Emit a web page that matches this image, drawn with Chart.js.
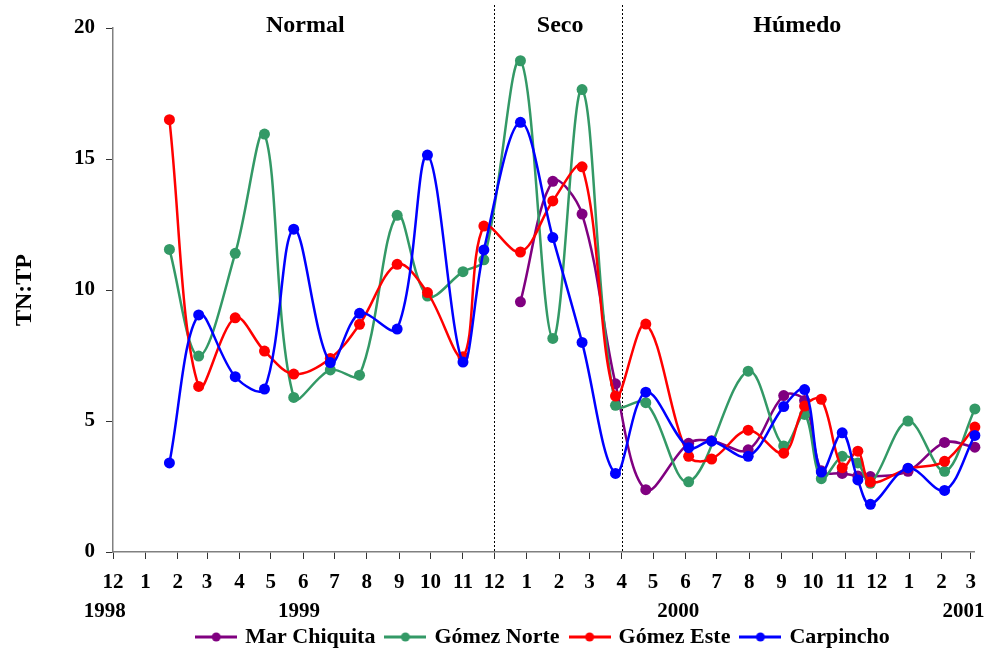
<!DOCTYPE html>
<html>
<head>
<meta charset="utf-8">
<script src="https://cdn.jsdelivr.net/npm/chart.js@4"></script>
<style>
  html, body { margin: 0; padding: 0; background: #fff; }
  #wrap { width: 987px; height: 650px; }
</style>
</head>
<body>
<div id="wrap"><canvas id="chart" width="987" height="650"></canvas></div>
<script>
// sampling dates shared by all sites
const sampleDates = [
  '1999-01-24', '1999-02-21', '1999-03-28', '1999-04-25', '1999-05-23', '1999-06-27',
  '1999-07-25', '1999-08-30', '1999-09-28', '1999-11-01', '1999-11-21', '1999-12-26',
  '2000-01-26', '2000-02-23', '2000-03-26', '2000-04-24', '2000-06-04', '2000-06-26',
  '2000-07-31', '2000-09-03', '2000-09-23', '2000-10-09', '2000-10-29', '2000-11-13',
  '2000-11-25', '2000-12-31', '2001-02-04', '2001-03-05'
];

// TN:TP per site (null = no sample)
const marChiquita = [null, null, null, null, null, null, null, null, null, null, null, 9.55,
  14.15, 12.9, 6.42, 2.38, 4.15, 4.25, 3.9, 5.97, 5.78, 3.1, 3.0, 2.9, 2.88, 3.08, 4.18, 4.0];
const gomezNorte = [11.55, 7.48, 11.4, 15.95, 5.9, 6.95, 6.75, 12.85, 9.77, 10.7, 11.15, 18.75,
  8.15, 17.65, 5.6, 5.7, 2.68, null, 6.9, 4.05, 5.25, 2.8, 3.65, 3.4, 2.62, 5.0, 3.08, 5.46];
const gomezEste = [16.5, 6.32, 8.94, 7.67, 6.79, 7.39, 8.69, 10.98, 9.9, 7.45, 12.44, 11.45,
  13.4, 14.7, 5.95, 8.7, 3.65, 3.55, 4.65, 3.77, 5.57, 5.83, 3.22, 3.85, 2.67, 3.18, 3.46, 4.77];
const carpincho = [3.4, 9.05, 6.69, 6.22, 12.32, 7.23, 9.11, 8.51, 15.15, 7.25, 11.53, 16.4,
  12.0, 8.0, 3.0, 6.1, 3.98, 4.23, 3.65, 5.55, 6.2, 3.05, 4.55, 2.75, 1.82, 3.2, 2.35, 4.45];

const seriesNames = ['Mar Chiquita', 'Gómez Norte', 'Gómez Este', 'Carpincho'];
const seriesValues = [marChiquita, gomezNorte, gomezEste, carpincho];
const seriesColors = ['#800080', '#339966', '#ff0000', '#0000ff'];
const drawOrder = [4, 3, 2, 1]; // Carpincho on top

// x axis: a tick at the start of each month
const monthTicks = [
  '1998-12-01', '1999-01-01', '1999-02-01', '1999-03-01', '1999-04-01', '1999-05-01', '1999-06-01',
  '1999-07-01', '1999-08-01', '1999-09-01', '1999-10-01', '1999-11-01', '1999-12-01', '2000-01-01',
  '2000-02-01', '2000-03-01', '2000-04-01', '2000-05-01', '2000-06-01', '2000-07-01', '2000-08-01',
  '2000-09-01', '2000-10-01', '2000-11-01', '2000-12-01', '2001-01-01', '2001-02-01', '2001-03-01'
];
const monthLabels = ['12', '1', '2', '3', '4', '5', '6', '7', '8', '9', '10', '11', '12', '1',
  '2', '3', '4', '5', '6', '7', '8', '9', '10', '11', '12', '1', '2', '3'];
const yearLabels = ['1998', '1999', '2000', '2001'];
const yearLabelDates = ['1998-11-23', '1999-05-28', '2000-05-25', '2001-02-22'];

// hydrological periods
const periodNames = ['Normal', 'Seco', 'Húmedo'];
const periodLabelDates = ['1999-06-03', '2000-02-02', '2000-09-16'];
const periodBreaks = ['1999-12-01', '2000-04-01'];

const ORIGIN = Date.parse(monthTicks[0]);
const toDay = s => (Date.parse(s) - ORIGIN) / 86400000;
const FONT = "'Liberation Serif', 'Times New Roman', serif";

function legendIcon(color) {
    const c = document.createElement('canvas');
    c.width = 42;
    c.height = 12;
    const g = c.getContext('2d');
    g.strokeStyle = color;
    g.lineWidth = 3;
    g.beginPath();
    g.moveTo(0, 6);
    g.lineTo(42, 6);
    g.stroke();
    g.fillStyle = color;
    g.beginPath();
    g.arc(21, 6, 4.5, 0, Math.PI * 2);
    g.fill();
    return c;
}

// dotted period separators, period names and year labels
const periodPlugin = {
    id: 'periods',
    beforeDatasetsDraw(chart) {
        const {ctx, chartArea, scales: {x}} = chart;
        ctx.save();
        ctx.setLineDash([2, 2]);
        ctx.strokeStyle = '#000';
        ctx.lineWidth = 1;
        periodBreaks.forEach(d => {
            const px = Math.round(x.getPixelForValue(toDay(d))) + 0.5;
            ctx.beginPath();
            ctx.moveTo(px, 5);
            ctx.lineTo(px, chartArea.bottom);
            ctx.stroke();
        });
        ctx.restore();
    },
    afterDraw(chart) {
        const {ctx, scales: {x}} = chart;
        ctx.save();
        ctx.fillStyle = '#000';
        ctx.textAlign = 'center';
        ctx.textBaseline = 'alphabetic';
        ctx.font = 'bold 24px ' + FONT;
        periodNames.forEach((name, i) => {
            ctx.fillText(name, x.getPixelForValue(toDay(periodLabelDates[i])), 32);
        });
        ctx.textBaseline = 'middle';
        ctx.font = 'bold 21px ' + FONT;
        yearLabels.forEach((label, i) => {
            ctx.fillText(label, x.getPixelForValue(toDay(yearLabelDates[i])), 612);
        });
        ctx.restore();
    }
};

const datasets = seriesNames.map((name, i) => ({
    label: name,
    data: sampleDates.map((d, j) => ({x: toDay(d), y: seriesValues[i][j]})),
    borderColor: seriesColors[i],
    backgroundColor: seriesColors[i],
    pointBackgroundColor: seriesColors[i],
    pointBorderColor: seriesColors[i],
    borderWidth: 2.5,
    pointRadius: 5.5,
    pointBorderWidth: 0,
    tension: 0.35,
    spanGaps: true,
    clip: false,
    order: drawOrder[i]
}));

const ctx = document.getElementById('chart').getContext('2d');
const myChart = new Chart(ctx, {
    type: 'line',
    data: { datasets: datasets },
    plugins: [periodPlugin],
    options: {
        responsive: false,
        animation: false,
        layout: { padding: { top: 28, right: 11, left: 0, bottom: -8 } },
        plugins: {
            tooltip: { enabled: false },
            legend: {
                position: 'bottom',
                fullSize: false,
                labels: {
                    usePointStyle: true,
                    pointStyleWidth: 36,
                    padding: 12,
                    color: '#000',
                    font: { family: FONT, size: 22, weight: 'bold' },
                    generateLabels: chart => chart.data.datasets.map((ds, i) => ({
                        text: ds.label,
                        fillStyle: ds.borderColor,
                        strokeStyle: ds.borderColor,
                        lineWidth: 0,
                        pointStyle: legendIcon(ds.borderColor),
                        hidden: false,
                        datasetIndex: i,
                        fontColor: '#000'
                    }))
                }
            }
        },
        scales: {
            x: {
                type: 'linear',
                min: 0,
                max: toDay(sampleDates[sampleDates.length - 1]),
                afterBuildTicks: scale => {
                    scale.ticks = monthTicks.map(d => ({ value: toDay(d) }));
                },
                afterFit: scale => { scale.height = 62; },
                ticks: {
                    autoSkip: false,
                    maxRotation: 0,
                    padding: 11,
                    color: '#000',
                    font: { family: FONT, size: 21, weight: 'bold' },
                    callback: (value, index) => monthLabels[index]
                },
                grid: { drawOnChartArea: false, tickLength: 7, color: '#333' },
                border: { color: '#808080', width: 1.5 }
            },
            y: {
                min: 0,
                max: 20,
                afterFit: scale => { scale.width = 113; },
                ticks: {
                    stepSize: 5,
                    padding: 11,
                    color: '#000',
                    font: { family: FONT, size: 21, weight: 'bold' }
                },
                grid: { drawOnChartArea: false, tickLength: 7, color: '#333' },
                border: { color: '#808080', width: 1.5 },
                title: {
                    display: true,
                    text: 'TN:TP',
                    color: '#000',
                    font: { family: FONT, size: 24, weight: 'bold' },
                    padding: { top: 10, bottom: 0 }
                }
            }
        }
    }
});
</script>
</body>
</html>
